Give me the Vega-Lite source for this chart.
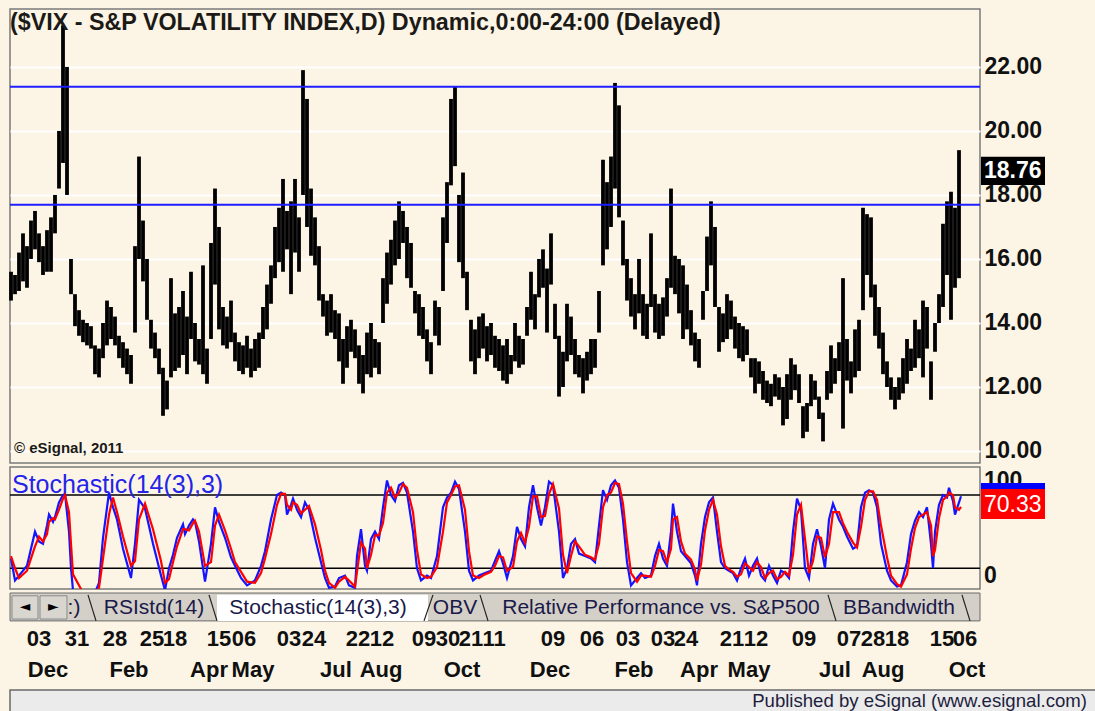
{
"$schema": "https://vega.github.io/schema/vega-lite/v6.json",
"background": "#FCF5E6",
"padding": {"left": 8, "top": 8, "right": 0, "bottom": 0},
"spacing": 4,
"bounds": "flush",
"config": {"view": {"stroke": "#7A7A7A", "strokeWidth": 1.5, "fill": "#FCF5E6"}, "font": "Liberation Sans", "text": {"font": "Liberation Sans"}},
"datasets": {
"bars": [
{"day":0,"low":14.7,"high":15.6},{"day":2,"low":14.9,"high":15.5},{"day":4,"low":15.0,"high":16.2},{"day":6,"low":15.3,"high":16.8},{"day":8,"low":15.1,"high":16.4},{"day":10,"low":16.0,"high":17.2},{"day":12,"low":16.3,"high":17.5},{"day":14,"low":15.9,"high":16.8},{"day":16,"low":15.5,"high":16.4},{"day":18,"low":15.6,"high":16.9},
{"day":20,"low":15.6,"high":17.3},{"day":22,"low":16.8,"high":18.0},{"day":24,"low":18.2,"high":20.0},{"day":26,"low":19.0,"high":23.3},{"day":28,"low":18.0,"high":22.0},{"day":30,"low":14.9,"high":16.0},{"day":32,"low":13.9,"high":14.9},{"day":34,"low":13.6,"high":14.4},{"day":36,"low":13.4,"high":14.1},{"day":38,"low":13.3,"high":14.0},
{"day":40,"low":13.2,"high":13.9},{"day":42,"low":12.4,"high":13.3},{"day":44,"low":12.3,"high":13.2},{"day":46,"low":12.9,"high":14.0},{"day":48,"low":13.3,"high":14.7},{"day":50,"low":13.5,"high":14.5},{"day":52,"low":13.3,"high":14.2},{"day":54,"low":12.9,"high":13.6},{"day":56,"low":12.6,"high":13.4},{"day":58,"low":12.4,"high":13.2},
{"day":60,"low":12.1,"high":13.0},{"day":62,"low":13.7,"high":16.4},{"day":64,"low":16.0,"high":19.2},{"day":66,"low":15.3,"high":17.2},{"day":68,"low":14.1,"high":16.0},{"day":70,"low":13.2,"high":14.1},{"day":72,"low":12.9,"high":13.7},{"day":74,"low":12.4,"high":13.2},{"day":76,"low":11.1,"high":12.6},{"day":78,"low":11.3,"high":12.2},
{"day":80,"low":12.3,"high":15.4},{"day":82,"low":12.5,"high":14.3},{"day":84,"low":12.6,"high":14.5},{"day":86,"low":13.0,"high":15.0},{"day":88,"low":12.4,"high":14.2},{"day":90,"low":13.5,"high":15.6},{"day":92,"low":12.8,"high":14.0},{"day":94,"low":12.7,"high":13.5},{"day":96,"low":12.4,"high":15.8},{"day":98,"low":12.1,"high":13.2},
{"day":100,"low":13.5,"high":16.5},{"day":102,"low":15.2,"high":18.2},{"day":104,"low":13.8,"high":17.0},{"day":106,"low":13.3,"high":14.5},{"day":108,"low":13.2,"high":14.2},{"day":110,"low":13.4,"high":14.7},{"day":112,"low":12.8,"high":13.7},{"day":114,"low":12.5,"high":13.4},{"day":116,"low":12.4,"high":13.3},{"day":118,"low":12.6,"high":13.6},
{"day":120,"low":12.3,"high":13.2},{"day":122,"low":12.5,"high":13.5},{"day":124,"low":12.6,"high":13.7},{"day":126,"low":13.5,"high":14.5},{"day":128,"low":13.8,"high":15.2},{"day":130,"low":14.6,"high":15.8},{"day":132,"low":15.4,"high":17.0},{"day":134,"low":15.9,"high":17.6},{"day":136,"low":15.6,"high":18.5},{"day":138,"low":16.3,"high":17.5},
{"day":140,"low":14.9,"high":17.8},{"day":142,"low":16.2,"high":18.5},{"day":144,"low":15.6,"high":17.3},{"day":146,"low":18.0,"high":21.9},{"day":148,"low":17.0,"high":21.0},{"day":150,"low":16.1,"high":18.2},{"day":152,"low":15.8,"high":17.3},{"day":154,"low":14.7,"high":16.4},{"day":156,"low":14.2,"high":14.9},{"day":158,"low":13.6,"high":14.7},
{"day":160,"low":13.7,"high":14.9},{"day":162,"low":13.5,"high":14.4},{"day":164,"low":12.8,"high":14.3},{"day":166,"low":12.1,"high":13.5},{"day":168,"low":12.6,"high":13.9},{"day":170,"low":13.1,"high":14.1},{"day":172,"low":12.9,"high":13.8},{"day":174,"low":12.1,"high":13.3},{"day":176,"low":11.8,"high":13.0},{"day":178,"low":12.4,"high":13.7},
{"day":180,"low":12.3,"high":14.0},{"day":182,"low":12.6,"high":13.5},{"day":184,"low":12.4,"high":13.4},{"day":186,"low":14.0,"high":15.4},{"day":188,"low":14.6,"high":16.2},{"day":190,"low":15.2,"high":16.6},{"day":192,"low":15.8,"high":17.2},{"day":194,"low":16.0,"high":17.8},{"day":196,"low":16.5,"high":17.5},{"day":198,"low":15.4,"high":17.0},
{"day":200,"low":15.1,"high":16.5},{"day":202,"low":14.3,"high":15.0},{"day":204,"low":13.6,"high":14.9},{"day":206,"low":13.5,"high":14.5},{"day":208,"low":12.8,"high":13.8},{"day":210,"low":12.4,"high":13.4},{"day":212,"low":13.6,"high":14.7},{"day":214,"low":13.3,"high":14.5},{"day":216,"low":15.0,"high":17.3},{"day":218,"low":16.5,"high":18.4},
{"day":220,"low":18.3,"high":21.0},{"day":222,"low":18.9,"high":21.4},{"day":224,"low":15.9,"high":18.0},{"day":226,"low":15.4,"high":18.7},{"day":228,"low":14.4,"high":15.6},{"day":230,"low":12.8,"high":14.1},{"day":232,"low":12.4,"high":13.8},{"day":234,"low":12.9,"high":14.2},{"day":236,"low":13.2,"high":14.3},{"day":238,"low":12.8,"high":13.9},
{"day":240,"low":13.0,"high":14.0},{"day":242,"low":12.6,"high":13.6},{"day":244,"low":12.5,"high":13.5},{"day":246,"low":12.2,"high":13.3},{"day":248,"low":12.1,"high":13.5},{"day":250,"low":12.4,"high":13.0},{"day":252,"low":12.8,"high":14.0},{"day":254,"low":12.6,"high":13.6},{"day":256,"low":12.7,"high":13.5},{"day":258,"low":13.6,"high":14.5},
{"day":260,"low":14.1,"high":15.6},{"day":262,"low":13.8,"high":14.9},{"day":264,"low":14.8,"high":16.0},{"day":266,"low":15.1,"high":16.3},{"day":268,"low":13.7,"high":15.7},{"day":270,"low":15.2,"high":16.8},{"day":272,"low":13.5,"high":14.6},{"day":274,"low":11.7,"high":13.6},{"day":276,"low":12.0,"high":13.1},{"day":278,"low":12.8,"high":14.6},
{"day":280,"low":13.0,"high":14.2},{"day":282,"low":12.4,"high":13.5},{"day":284,"low":12.3,"high":13.0},{"day":286,"low":11.8,"high":12.9},{"day":288,"low":12.2,"high":13.1},{"day":290,"low":12.4,"high":13.5},{"day":292,"low":12.6,"high":13.5},{"day":294,"low":13.7,"high":15.0},{"day":296,"low":15.8,"high":19.1},{"day":298,"low":16.3,"high":18.4},
{"day":300,"low":17.0,"high":19.2},{"day":302,"low":18.2,"high":21.5},{"day":304,"low":17.3,"high":20.8},{"day":306,"low":15.8,"high":17.2},{"day":308,"low":14.7,"high":16.0},{"day":310,"low":14.2,"high":15.4},{"day":312,"low":13.8,"high":14.9},{"day":314,"low":14.3,"high":16.0},{"day":316,"low":13.6,"high":14.9},{"day":318,"low":13.5,"high":14.6},
{"day":320,"low":14.5,"high":16.8},{"day":322,"low":13.7,"high":14.9},{"day":324,"low":13.5,"high":14.6},{"day":326,"low":13.6,"high":14.8},{"day":328,"low":14.2,"high":15.4},{"day":330,"low":15.1,"high":18.2},{"day":332,"low":14.9,"high":16.1},{"day":334,"low":14.3,"high":16.0},{"day":336,"low":13.5,"high":15.8},{"day":338,"low":13.8,"high":15.2},
{"day":340,"low":13.3,"high":14.4},{"day":342,"low":12.8,"high":13.7},{"day":344,"low":12.6,"high":13.5},{"day":346,"low":14.1,"high":15.0},{"day":348,"low":15.0,"high":16.7},{"day":350,"low":15.8,"high":17.8},{"day":352,"low":14.5,"high":17.0},{"day":354,"low":13.1,"high":14.5},{"day":356,"low":13.4,"high":14.3},{"day":358,"low":13.5,"high":14.9},
{"day":360,"low":13.8,"high":14.7},{"day":362,"low":13.2,"high":14.2},{"day":364,"low":12.9,"high":14.0},{"day":366,"low":12.8,"high":13.9},{"day":368,"low":13.0,"high":13.8},{"day":370,"low":12.3,"high":12.9},{"day":372,"low":11.8,"high":12.9},{"day":374,"low":12.1,"high":12.8},{"day":376,"low":11.6,"high":12.5},{"day":378,"low":11.5,"high":12.2},
{"day":380,"low":11.4,"high":12.1},{"day":382,"low":11.7,"high":12.4},{"day":384,"low":11.6,"high":12.3},{"day":386,"low":10.8,"high":12.0},{"day":388,"low":11.0,"high":12.4},{"day":390,"low":11.6,"high":12.9},{"day":392,"low":11.9,"high":12.7},{"day":394,"low":11.5,"high":12.4},{"day":396,"low":10.4,"high":11.4},{"day":398,"low":10.6,"high":11.5},
{"day":400,"low":11.4,"high":12.4},{"day":402,"low":11.6,"high":12.2},{"day":404,"low":11.0,"high":11.7},{"day":406,"low":10.3,"high":11.2},{"day":408,"low":11.6,"high":12.5},{"day":410,"low":11.8,"high":13.3},{"day":412,"low":12.1,"high":12.9},{"day":414,"low":12.5,"high":13.4},{"day":416,"low":10.7,"high":15.4},{"day":418,"low":12.2,"high":13.5},
{"day":420,"low":11.8,"high":12.8},{"day":422,"low":12.3,"high":13.8},{"day":424,"low":12.5,"high":14.1},{"day":426,"low":14.4,"high":17.6},{"day":428,"low":15.5,"high":17.4},{"day":430,"low":14.8,"high":17.3},{"day":432,"low":13.6,"high":15.2},{"day":434,"low":13.2,"high":14.5},{"day":436,"low":12.4,"high":13.7},{"day":438,"low":12.0,"high":12.8},
{"day":440,"low":11.6,"high":12.3},{"day":442,"low":11.3,"high":12.0},{"day":444,"low":11.6,"high":12.3},{"day":446,"low":11.8,"high":12.9},{"day":448,"low":12.1,"high":13.5},{"day":450,"low":12.5,"high":13.2},{"day":452,"low":12.6,"high":14.1},{"day":454,"low":12.9,"high":13.8},{"day":456,"low":12.3,"high":14.7},{"day":458,"low":13.2,"high":14.5},
{"day":460,"low":11.6,"high":12.8},{"day":462,"low":13.1,"high":14.0},{"day":464,"low":14.0,"high":14.9},{"day":466,"low":14.5,"high":17.1},{"day":468,"low":15.5,"high":17.8},{"day":470,"low":14.1,"high":18.1},{"day":472,"low":15.1,"high":17.6},{"day":474,"low":15.4,"high":19.4}
],
"levels": [{"level": 21.38}, {"level": 17.69}],
"lastPrice": [{"close": 18.76}],
"stochLevels": [{"level": 80}, {"level": 20}],
"stochLast": [{"k": 79.5, "d": 70.33}],
"stoch": [
{"day":0,"k":28,"d":30},{"day":2,"k":10,"d":20},{"day":4,"k":14,"d":12},{"day":8,"k":22,"d":18},{"day":12,"k":50,"d":38},{"day":14,"k":42,"d":46},{"day":16,"k":40,"d":42},{"day":18,"k":55,"d":48},{"day":19,"k":64,"d":58},{"day":21,"k":58,"d":61},{"day":22,"k":62,"d":60},{"day":24,"k":74,"d":68},{"day":26,"k":80,"d":77},{"day":27,"k":81,"d":80},{"day":29,"k":50,"d":66},{"day":30,"k":20,"d":40},{"day":31,"k":2,"d":15},{"day":36,"k":0,"d":0},{"day":42,"k":0,"d":0},{"day":44,"k":8,"d":4},{"day":46,"k":45,"d":28},{"day":49,"k":82,"d":64},{"day":51,"k":70,"d":78},{"day":53,"k":60,"d":66},{"day":56,"k":36,"d":46},{"day":60,"k":12,"d":22},{"day":62,"k":40,"d":26},{"day":64,"k":76,"d":60},{"day":67,"k":69,"d":73},{"day":71,"k":40,"d":52},{"day":75,"k":14,"d":26},{"day":77,"k":2,"d":8},{"day":79,"k":20,"d":11},{"day":81,"k":31,"d":25},{"day":83,"k":45,"d":38},{"day":86,"k":56,"d":52},{"day":87,"k":48,"d":52},{"day":89,"k":55,"d":51},{"day":91,"k":60,"d":57},{"day":92,"k":58,"d":59},{"day":94,"k":42,"d":50},{"day":97,"k":9,"d":22},{"day":100,"k":40,"d":25},{"day":102,"k":70,"d":55},{"day":104,"k":58,"d":64},{"day":107,"k":45,"d":51},{"day":110,"k":29,"d":36},{"day":112,"k":22,"d":25},{"day":115,"k":12,"d":17},{"day":118,"k":6,"d":9},{"day":122,"k":10,"d":8},{"day":125,"k":22,"d":16},{"day":127,"k":34,"d":28},{"day":130,"k":60,"d":48},{"day":133,"k":80,"d":72},{"day":135,"k":82,"d":81},{"day":137,"k":80,"d":81},{"day":138,"k":64,"d":72},{"day":140,"k":72,"d":68},{"day":141,"k":77,"d":74},{"day":143,"k":68,"d":72},{"day":145,"k":62,"d":65},{"day":147,"k":74,"d":68},{"day":149,"k":68,"d":71},{"day":152,"k":45,"d":56},{"day":155,"k":25,"d":35},{"day":157,"k":12,"d":18},{"day":159,"k":4,"d":8},{"day":162,"k":5,"d":4},{"day":164,"k":12,"d":9},{"day":167,"k":14,"d":13},{"day":169,"k":6,"d":10},{"day":172,"k":4,"d":5},{"day":173,"k":30,"d":17},{"day":175,"k":52,"d":41},{"day":177,"k":22,"d":36},{"day":178,"k":18,"d":20},{"day":180,"k":44,"d":31},{"day":182,"k":50,"d":47},{"day":184,"k":44,"d":47},{"day":186,"k":70,"d":57},{"day":188,"k":92,"d":82},{"day":190,"k":80,"d":86},{"day":192,"k":75,"d":78},{"day":194,"k":88,"d":82},{"day":196,"k":90,"d":89},{"day":198,"k":82,"d":86},{"day":201,"k":50,"d":66},{"day":203,"k":20,"d":35},{"day":205,"k":10,"d":15},{"day":208,"k":14,"d":12},{"day":210,"k":12,"d":13},{"day":213,"k":30,"d":21},{"day":216,"k":70,"d":50},{"day":218,"k":78,"d":74},{"day":220,"k":82,"d":80},{"day":222,"k":91,"d":87},{"day":224,"k":85,"d":88},{"day":227,"k":50,"d":68},{"day":229,"k":18,"d":34},{"day":231,"k":10,"d":14},{"day":234,"k":14,"d":12},{"day":237,"k":16,"d":15},{"day":240,"k":18,"d":17},{"day":242,"k":26,"d":22},{"day":244,"k":34,"d":30},{"day":246,"k":24,"d":29},{"day":248,"k":12,"d":18},{"day":251,"k":30,"d":21},{"day":253,"k":54,"d":42},{"day":255,"k":44,"d":49},{"day":257,"k":38,"d":41},{"day":259,"k":70,"d":54},{"day":261,"k":88,"d":79},{"day":263,"k":70,"d":79},{"day":265,"k":55,"d":62},{"day":267,"k":70,"d":63},{"day":269,"k":91,"d":81},{"day":271,"k":88,"d":89},{"day":274,"k":50,"d":69},{"day":276,"k":12,"d":31},{"day":278,"k":20,"d":16},{"day":280,"k":40,"d":30},{"day":282,"k":44,"d":42},{"day":284,"k":32,"d":38},{"day":287,"k":30,"d":31},{"day":290,"k":28,"d":29},{"day":292,"k":25,"d":27},{"day":294,"k":55,"d":40},{"day":296,"k":84,"d":70},{"day":298,"k":76,"d":80},{"day":300,"k":88,"d":82},{"day":302,"k":92,"d":90},{"day":304,"k":86,"d":89},{"day":306,"k":60,"d":73},{"day":308,"k":25,"d":42},{"day":310,"k":6,"d":16},{"day":313,"k":12,"d":9},{"day":315,"k":16,"d":14},{"day":317,"k":12,"d":14},{"day":320,"k":14,"d":13},{"day":322,"k":30,"d":22},{"day":324,"k":40,"d":35},{"day":326,"k":28,"d":34},{"day":328,"k":22,"d":25},{"day":330,"k":50,"d":36},{"day":331,"k":73,"d":60},{"day":333,"k":50,"d":62},{"day":335,"k":34,"d":42},{"day":337,"k":30,"d":32},{"day":340,"k":24,"d":27},{"day":342,"k":14,"d":19},{"day":343,"k":6,"d":10},{"day":345,"k":40,"d":23},{"day":347,"k":62,"d":51},{"day":349,"k":74,"d":68},{"day":351,"k":78,"d":76},{"day":353,"k":50,"d":64},{"day":355,"k":25,"d":38},{"day":357,"k":20,"d":22},{"day":359,"k":18,"d":19},{"day":361,"k":16,"d":17},{"day":363,"k":10,"d":13},{"day":365,"k":20,"d":15},{"day":367,"k":28,"d":24},{"day":369,"k":14,"d":21},{"day":371,"k":22,"d":18},{"day":373,"k":28,"d":25},{"day":375,"k":14,"d":21},{"day":377,"k":10,"d":12},{"day":379,"k":22,"d":16},{"day":381,"k":14,"d":18},{"day":383,"k":8,"d":11},{"day":385,"k":18,"d":13},{"day":387,"k":16,"d":17},{"day":389,"k":12,"d":14},{"day":391,"k":50,"d":31},{"day":393,"k":77,"d":64},{"day":395,"k":68,"d":72},{"day":397,"k":20,"d":44},{"day":399,"k":12,"d":16},{"day":401,"k":40,"d":26},{"day":403,"k":52,"d":46},{"day":405,"k":38,"d":45},{"day":407,"k":20,"d":29},{"day":409,"k":60,"d":40},{"day":411,"k":73,"d":66},{"day":414,"k":60,"d":66},{"day":416,"k":54,"d":57},{"day":418,"k":46,"d":50},{"day":421,"k":36,"d":41},{"day":423,"k":38,"d":37},{"day":425,"k":70,"d":54},{"day":427,"k":82,"d":76},{"day":429,"k":84,"d":83},{"day":431,"k":82,"d":83},{"day":433,"k":70,"d":76},{"day":435,"k":40,"d":55},{"day":438,"k":18,"d":29},{"day":440,"k":10,"d":14},{"day":443,"k":5,"d":7},{"day":445,"k":6,"d":5},{"day":448,"k":25,"d":15},{"day":450,"k":48,"d":36},{"day":452,"k":59,"d":53},{"day":454,"k":66,"d":62},{"day":456,"k":62,"d":64},{"day":458,"k":70,"d":66},{"day":460,"k":40,"d":55},{"day":461,"k":20,"d":30},{"day":462,"k":50,"d":35},{"day":464,"k":72,"d":61},{"day":466,"k":80,"d":76},{"day":468,"k":78,"d":79},{"day":469,"k":86,"d":82},{"day":471,"k":75,"d":80},{"day":472,"k":64,"d":70},{"day":474,"k":74,"d":68},{"day":475,"k":79,"d":70.33}
],
"tabs": [
{"tab":":)","at":31.5},{"tab":"RSIstd(14)","at":71.5},{"tab":"Stochastic(14(3),3)","at":153.5},{"tab":"OBV","at":222},{"tab":"Relative Performance vs. S&P500","at":325},{"tab":"BBandwidth","at":444}
],
"tabEdges": [
{"top":38.5,"bottom":42.5},{"top":99,"bottom":103},{"top":211,"bottom":206.5},{"top":234.5,"bottom":238.5},{"top":408.5,"bottom":412.5},{"top":475.5,"bottom":479.5}
],
"buttons": [{"glyph":"◄","from":0.5,"to":13.5,"mid":7},{"glyph":"►","from":14.5,"to":28,"mid":21.25}],
"dayTicks": [
{"day":14,"label":"03"},{"day":33,"label":"31"},{"day":52,"label":"28"},{"day":70.5,"label":"25"},{"day":82,"label":"18"},{"day":104,"label":"15"},{"day":116.5,"label":"06"},{"day":139,"label":"03"},{"day":151.5,"label":"24"},{"day":173.5,"label":"22"},{"day":185.5,"label":"12"},{"day":206.5,"label":"09"},{"day":218.5,"label":"30"},{"day":230,"label":"21"},{"day":241.5,"label":"11"},{"day":271,"label":"09"},{"day":290.5,"label":"06"},{"day":308.5,"label":"03"},{"day":326,"label":"03"},{"day":337.5,"label":"24"},{"day":360.5,"label":"21"},{"day":372.5,"label":"12"},{"day":396.5,"label":"09"},{"day":419,"label":"07"},{"day":431,"label":"28"},{"day":443,"label":"18"},{"day":465.5,"label":"15"},{"day":477,"label":"06"}
],
"monthTicks": [
{"day":18.5,"month":"Dec"},{"day":59,"month":"Feb"},{"day":99,"month":"Apr"},{"day":121,"month":"May"},{"day":162.5,"month":"Jul"},{"day":185,"month":"Aug"},{"day":225.5,"month":"Oct"},{"day":269.5,"month":"Dec"},{"day":311.5,"month":"Feb"},{"day":344,"month":"Apr"},{"day":369,"month":"May"},{"day":412,"month":"Jul"},{"day":436,"month":"Aug"},{"day":478,"month":"Oct"}
]
},
"vconcat": [
{
"width": 970, "height": 454,
"layer": [
{"data": {"name": "bars"}, "mark": {"type": "rule", "color": "#000000", "strokeWidth": 3.8},
 "encoding": {
  "x": {"field": "day", "type": "quantitative", "scale": {"domain": [-0.5, 484.5], "nice": false, "zero": false}, "axis": null},
  "y": {"field": "low", "type": "quantitative", "scale": {"domain": [9.625, 23.81], "nice": false, "zero": false},
        "axis": {"orient": "right", "values": [10,12,14,16,18,20,22], "format": ".2f", "title": null, "ticks": false, "domain": false,
                 "labelFont": "Liberation Sans", "labelFontSize": 23, "labelFontWeight": "bold", "labelColor": "#111111", "labelPadding": 4,
                 "grid": true, "gridColor": "#FFFFFF", "gridWidth": 2}},
  "y2": {"field": "high"}}},
{"data": {"name": "levels"}, "mark": {"type": "rule", "color": "#1E1EFF", "strokeWidth": 2},
 "encoding": {"y": {"field": "level", "type": "quantitative"}}},
{"data": {"values": [{}]}, "mark": {"type": "text", "text": "($VIX - S&P VOLATILITY INDEX,D) Dynamic,0:00-24:00 (Delayed)", "align": "left", "baseline": "middle", "fontSize": 23.3, "fontWeight": "bold", "color": "#1C1A17", "dx": 0},
 "encoding": {"x": {"datum": -0.5}, "y": {"datum": 23.375}}},
{"data": {"values": [{}]}, "mark": {"type": "text", "text": "© eSignal, 2011", "align": "left", "baseline": "middle", "fontSize": 15, "fontWeight": "bold", "color": "#1C1A17", "dx": 4},
 "encoding": {"x": {"datum": -0.5}, "y": {"datum": 10.09}}},
{"data": {"values": [{}]}, "mark": {"type": "rect", "color": "#000000"},
 "encoding": {"x": {"datum": 485}, "x2": {"datum": 517}, "y": {"datum": 19.19}, "y2": {"datum": 18.31}}},
{"data": {"name": "lastPrice"}, "mark": {"type": "text", "align": "left", "baseline": "middle", "fontSize": 23, "fontWeight": "bold", "color": "#FFFFFF"},
 "encoding": {"x": {"datum": 486.5}, "y": {"field": "close", "type": "quantitative"}, "text": {"field": "close", "type": "quantitative", "format": ".2f"}}}
]
},
{
"width": 970, "height": 122,
"layer": [
{"data": {"name": "stochLevels"}, "mark": {"type": "rule", "color": "#000000", "strokeWidth": 1.5},
 "encoding": {"y": {"field": "level", "type": "quantitative", "scale": {"domain": [3, 103], "nice": false, "zero": false}, "axis": null}}},
{"data": {"name": "stoch"}, "mark": {"type": "line", "color": "#1414FF", "strokeWidth": 2.2, "clip": true},
 "encoding": {"x": {"field": "day", "type": "quantitative", "scale": {"domain": [-0.5, 484.5], "nice": false, "zero": false}, "axis": null}, "y": {"field": "k", "type": "quantitative"}}},
{"data": {"name": "stoch"}, "mark": {"type": "line", "color": "#FF0000", "strokeWidth": 2.2, "clip": true},
 "encoding": {"x": {"field": "day", "type": "quantitative"}, "y": {"field": "d", "type": "quantitative"}}},
{"data": {"values": [{}]}, "mark": {"type": "text", "text": "Stochastic(14(3),3)", "align": "left", "baseline": "middle", "fontSize": 25, "color": "#2424E8", "dx": 2},
 "encoding": {"x": {"datum": -0.5}, "y": {"datum": 88.5}}},
{"data": {"values": [{}]}, "mark": {"type": "text", "text": "100", "align": "left", "baseline": "middle", "fontSize": 23, "fontWeight": "bold", "color": "#111111"},
 "encoding": {"x": {"datum": 486.5}, "y": {"datum": 91.5}}},
{"data": {"values": [{}]}, "mark": {"type": "rect", "color": "#0000FF"},
 "encoding": {"x": {"datum": 485}, "x2": {"datum": 517}, "y": {"datum": 89.9}, "y2": {"datum": 65}}},
{"data": {"values": [{}]}, "mark": {"type": "rect", "color": "#FF0000"},
 "encoding": {"x": {"datum": 485}, "x2": {"datum": 517}, "y": {"datum": 85}, "y2": {"datum": 60.4}}},
{"data": {"name": "stochLast"}, "mark": {"type": "text", "align": "left", "baseline": "middle", "fontSize": 23, "color": "#FFFFFF", "dy": -2},
 "encoding": {"x": {"datum": 486.5}, "y": {"field": "d", "type": "quantitative"}, "text": {"field": "d", "type": "quantitative", "format": ".2f"}}},
{"data": {"values": [{}]}, "mark": {"type": "text", "text": "0", "align": "left", "baseline": "middle", "fontSize": 23, "fontWeight": "bold", "color": "#111111"},
 "encoding": {"x": {"datum": 486.5}, "y": {"datum": 13.4}}}
]
},
{
"width": 970, "height": 93,
"view": {"stroke": null, "fill": null},
"layer": [
{"data": {"values": [{}]}, "mark": {"type": "rect", "color": "#D4D0C8", "stroke": "#6A6A6A", "strokeWidth": 1},
 "encoding": {"x": {"datum": -0.5, "scale": {"domain": [-0.5, 484.5], "nice": false, "zero": false}, "axis": null}, "x2": {"datum": 484.5},
              "y": {"datum": 0, "scale": {"domain": [0, 1], "reverse": true, "nice": false, "zero": false}, "axis": null}, "y2": {"datum": 0.3}}},
{"data": {"values": [{}]}, "mark": {"type": "rect", "color": "#FFFFFF"},
 "encoding": {"x": {"datum": 103}, "x2": {"datum": 208.5}, "y": {"datum": 0.02}, "y2": {"datum": 0.3}}},
{"data": {"name": "buttons"}, "mark": {"type": "rect", "color": "#D9D6CF", "stroke": "#8A8A8A", "strokeWidth": 1},
 "encoding": {"x": {"field": "from", "type": "quantitative"}, "x2": {"field": "to"}, "y": {"datum": 0.03}, "y2": {"datum": 0.28}}},
{"data": {"name": "buttons"}, "mark": {"type": "text", "fontSize": 14, "color": "#000000", "baseline": "middle", "font": "DejaVu Sans"},
 "encoding": {"x": {"field": "mid", "type": "quantitative"}, "y": {"datum": 0.155}, "text": {"field": "glyph"}}},
{"data": {"name": "tabEdges"}, "mark": {"type": "rule", "color": "#222222", "strokeWidth": 1.2},
 "encoding": {"x": {"field": "top", "type": "quantitative"}, "x2": {"field": "bottom"}, "y": {"datum": 0.02}, "y2": {"datum": 0.3}}},
{"data": {"name": "tabs"}, "mark": {"type": "text", "fontSize": 21, "color": "#1A1A4A", "baseline": "middle"},
 "encoding": {"x": {"field": "at", "type": "quantitative"}, "y": {"datum": 0.16}, "text": {"field": "tab"}}},
{"data": {"name": "dayTicks"}, "mark": {"type": "text", "fontSize": 22, "fontWeight": "bold", "color": "#101010", "baseline": "middle"},
 "encoding": {"x": {"field": "day", "type": "quantitative"}, "y": {"datum": 0.495}, "text": {"field": "label"}}},
{"data": {"name": "monthTicks"}, "mark": {"type": "text", "fontSize": 22, "fontWeight": "bold", "color": "#101010", "baseline": "middle"},
 "encoding": {"x": {"field": "day", "type": "quantitative"}, "y": {"datum": 0.828}, "text": {"field": "month"}}}
]
},
{
"width": 1087, "height": 22,
"view": {"stroke": "#6A6A6A", "strokeWidth": 1.5, "fill": "#EBEBEB"},
"layer": [
{"data": {"values": [{}]}, "mark": {"type": "text", "text": "Published by eSignal (www.esignal.com)", "align": "right", "baseline": "middle", "fontSize": 18.6, "color": "#1E1E3C", "dx": -10},
 "encoding": {"x": {"datum": 1, "scale": {"domain": [0, 1]}, "axis": null}, "y": {"datum": 0.5, "scale": {"domain": [0, 1]}, "axis": null}}}
]
}
]
}
